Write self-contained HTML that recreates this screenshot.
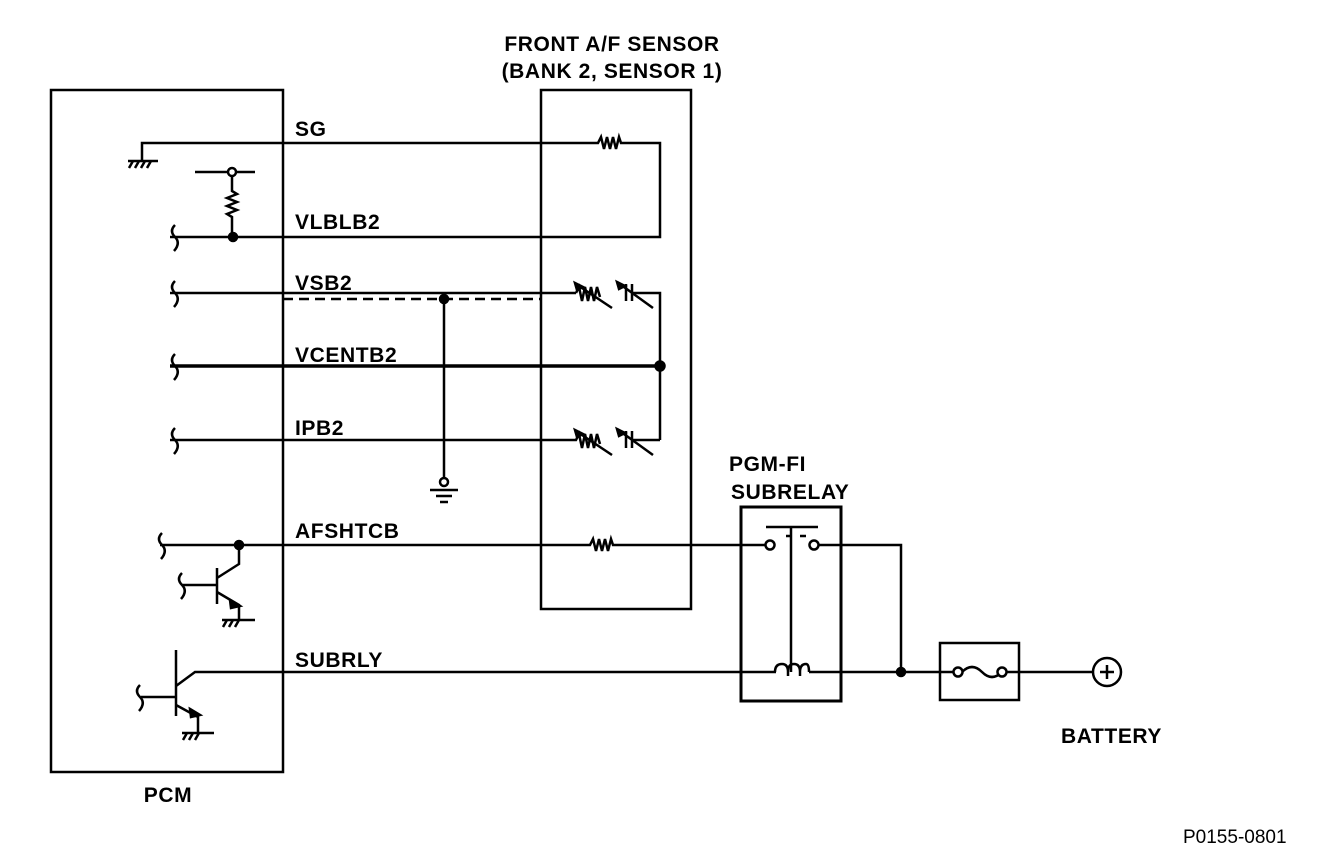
<!DOCTYPE html>
<html><head><meta charset="utf-8"><style>
body{margin:0;background:#fff;}
svg{display:block}
text{font-family:"Liberation Sans",Arial,sans-serif;font-weight:bold;font-size:21px;letter-spacing:0.6px;fill:#000}
</style></head><body>
<svg width="1328" height="866" viewBox="0 0 1328 866" xmlns="http://www.w3.org/2000/svg">
<g fill="none" stroke="#000" stroke-width="2.5">
<rect x="51" y="90" width="232" height="682"/>
<rect x="541" y="90" width="150" height="519"/>
<rect x="741" y="507" width="100" height="194" stroke-width="3"/>
<rect x="940" y="643" width="79" height="57"/>
<circle cx="1107" cy="672" r="14"/>
<path d="M1100 672h14M1107 665v14"/>
<path d="M142 160V143H598l3-6 3 12 3-12 3 12 3-12 3 12 3-12 2 6H660V237H170" />
<path d="M128 161h30M133 161l-4 7M139 161l-4 7M145 161l-4 7M151 161l-4 7"/>
<path d="M195 172h60"/>
<circle cx="232" cy="172" r="4" fill="#fff"/>
<path d="M232 176v15l5 3-10 4 10 4-10 4 10 4-10 4 5 3v20"/>
<circle cx="233" cy="237" r="4" fill="#000"/>
<path d="M170 293H576"/>
<path d="M576 293l3-6 3 14 3-14 3 14 3-14 3 14 3-14 3 10"/>
<path d="M576 284l36 24M626 284v17M632 284v17M632 293h28V440"/>
<path d="M617 282l36 26"/>
<path d="M575 283l8 4-6 3z M617 282l8 4-6 3z" fill="#000"/>
<path d="M283 299H541" stroke-dasharray="10 6"/>
<circle cx="444" cy="299" r="4" fill="#000"/>
<path d="M444 299V478"/>
<circle cx="444" cy="482" r="4"/>
<path d="M430 490h28M436 496h16M440 502h8"/>
<path d="M170 366H660" stroke-width="3.5"/>
<circle cx="660" cy="366" r="4.5" fill="#000"/>
<path d="M170 440H576l3-6 3 14 3-14 3 14 3-14 3 14 3-14 3 10"/>
<path d="M576 431l36 24M626 431v17M632 431v17M632 440h28"/>
<path d="M617 429l36 26"/>
<path d="M575 430l8 4-6 3z M617 429l8 4-6 3z" fill="#000"/>
<path d="M175 225q-6 6 0 12q6 6 -1 14M175 281q-6 6 0 12q6 6 -1 14M175 354q-6 6 0 12q6 6 -1 14M175 428q-6 6 0 12q6 6 -1 14M162 533q-6 6 0 12q6 6 -1 14M182 573q-6 6 0 12q6 6 -1 14M140 685q-6 6 0 12q6 6 -1 14"/>
<path d="M160 545H590l3-6 3 12 3-12 3 12 3-12 3 12 3-12 2 6H765"/>
<circle cx="239" cy="545" r="4" fill="#000"/>
<path d="M182 585h35M217 568v36M217 578l22-14v-19M217 592l22 13v15M222 620h33M227 620l-4 7M233 620l-4 7M239 620l-4 7"/>
<path d="M230 600l10 6-9 2z" fill="#000"/>
<circle cx="770" cy="545" r="4.5"/>
<circle cx="814" cy="545" r="4.5"/>
<path d="M766 527h52M791 527v145M786 536h5M800 536h6M819 545H901V672"/>
<path d="M141 697h35M176 650v66M176 686l19-14H776" />
<path d="M176 705l22 12v16M182 733h32M187 733l-4 7M193 733l-4 7M199 733l-4 7"/>
<path d="M190 709l10 6-9 2z" fill="#000"/>
<path d="M775 672q0-8 7-8q6 0 6 8v4M788 672q0-8 6-8q6 0 6 8v4M800 672q0-8 6-8q3 0 3 8"/>
<path d="M809 672H956M1002 672H1093M962 672q10-10 20 0q10 10 20 0"/>
<circle cx="958" cy="672" r="4.5" fill="#fff"/>
<circle cx="1002" cy="672" r="4.5" fill="#fff"/>
<circle cx="901" cy="672" r="4" fill="#000"/>
</g>
<text x="295" y="136">SG</text>
<text x="295" y="229">VLBLB2</text>
<text x="295" y="290">VSB2</text>
<text x="295" y="362">VCENTB2</text>
<text x="295" y="435">IPB2</text>
<text x="295" y="538">AFSHTCB</text>
<text x="295" y="667">SUBRLY</text>
<text x="612" y="51" text-anchor="middle">FRONT A/F SENSOR</text>
<text x="612" y="78" text-anchor="middle">(BANK 2, SENSOR 1)</text>
<text x="168" y="802" text-anchor="middle">PCM</text>
<text x="729" y="471">PGM-FI</text>
<text x="731" y="499">SUBRELAY</text>
<text x="1061" y="743">BATTERY</text>
<text x="1183" y="843" style="font-weight:normal;font-size:19px;letter-spacing:0">P0155-0801</text>
</svg>
</body></html>
